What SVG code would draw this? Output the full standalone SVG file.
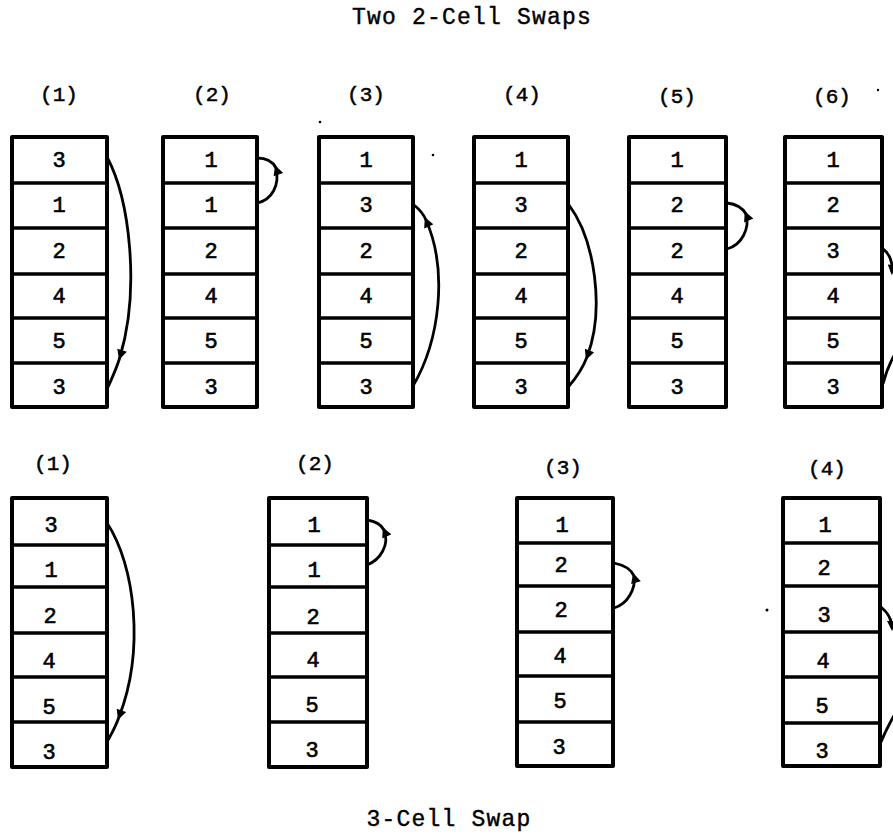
<svg xmlns="http://www.w3.org/2000/svg" width="893" height="835" viewBox="0 0 893 835">
<style>
.box{fill:#fff;stroke:#000;stroke-width:4;stroke-linejoin:round}
.div{stroke:#000;stroke-width:3.5}
.d{font-family:"Liberation Mono","DejaVu Sans Mono",monospace;font-size:22px;text-anchor:middle;fill:#000;stroke:#000;stroke-width:0.6}
.lbl{font-family:"Liberation Mono","DejaVu Sans Mono",monospace;font-size:21px;text-anchor:middle;fill:#000;stroke:#000;stroke-width:0.5}
.ttl{font-family:"Liberation Mono","DejaVu Sans Mono",monospace;font-size:23px;letter-spacing:1.2px;text-anchor:middle;fill:#000;stroke:#000;stroke-width:0.4}
.arc{fill:none;stroke:#000;stroke-width:2.8}
.am{marker-mid:url(#ah)}
.ae{marker-end:url(#ah)}
</style>
<defs>
<marker id="ah" viewBox="0 0 10 10" refX="7" refY="5" markerWidth="12" markerHeight="10" markerUnits="userSpaceOnUse" orient="auto">
<path d="M0,0 L10,5 L0,10 z" fill="#000"/>
</marker>
</defs>
<rect width="893" height="835" fill="#fff"/>
<text class="ttl" x="472" y="24">Two 2-Cell Swaps</text>
<text class="ttl" x="449" y="826">3-Cell Swap</text>

<g id="top1">
<text class="lbl" x="59" y="101">(1)</text>
<rect class="box" x="12" y="137" width="95" height="270"/>
<path class="div" d="M12,183H107M12,228H107M12,274H107M12,318H107M12,363H107"/>
<text class="d" x="59" y="167">3</text><text class="d" x="59" y="212">1</text><text class="d" x="59" y="258">2</text><text class="d" x="59" y="303">4</text><text class="d" x="59" y="348">5</text><text class="d" x="59" y="394">3</text>
</g>
<g id="top2">
<text class="lbl" x="212" y="101">(2)</text>
<rect class="box" x="163" y="137" width="94" height="270"/>
<path class="div" d="M163,183H257M163,228H257M163,274H257M163,318H257M163,363H257"/>
<text class="d" x="211" y="167">1</text><text class="d" x="211" y="212">1</text><text class="d" x="211" y="258">2</text><text class="d" x="211" y="303">4</text><text class="d" x="211" y="348">5</text><text class="d" x="211" y="394">3</text>
</g>
<g id="top3">
<text class="lbl" x="366" y="101">(3)</text>
<rect class="box" x="319" y="137" width="94" height="270"/>
<path class="div" d="M319,183H413M319,228H413M319,274H413M319,318H413M319,363H413"/>
<text class="d" x="366" y="167">1</text><text class="d" x="366" y="212">3</text><text class="d" x="366" y="258">2</text><text class="d" x="366" y="303">4</text><text class="d" x="366" y="348">5</text><text class="d" x="366" y="394">3</text>
</g>
<g id="top4">
<text class="lbl" x="522" y="101">(4)</text>
<rect class="box" x="474" y="137" width="94" height="270"/>
<path class="div" d="M474,183H568M474,228H568M474,274H568M474,318H568M474,363H568"/>
<text class="d" x="521" y="167">1</text><text class="d" x="521" y="212">3</text><text class="d" x="521" y="258">2</text><text class="d" x="521" y="303">4</text><text class="d" x="521" y="348">5</text><text class="d" x="521" y="394">3</text>
</g>
<g id="top5">
<text class="lbl" x="677" y="103">(5)</text>
<rect class="box" x="629" y="137" width="97" height="270"/>
<path class="div" d="M629,183H726M629,228H726M629,274H726M629,318H726M629,363H726"/>
<text class="d" x="677" y="167">1</text><text class="d" x="677" y="212">2</text><text class="d" x="677" y="258">2</text><text class="d" x="677" y="303">4</text><text class="d" x="677" y="348">5</text><text class="d" x="677" y="394">3</text>
</g>
<g id="top6">
<text class="lbl" x="832" y="103">(6)</text>
<rect class="box" x="785" y="137" width="97" height="270"/>
<path class="div" d="M785,183H882M785,228H882M785,274H882M785,318H882M785,363H882"/>
<text class="d" x="833" y="167">1</text><text class="d" x="833" y="212">2</text><text class="d" x="833" y="258">3</text><text class="d" x="833" y="303">4</text><text class="d" x="833" y="348">5</text><text class="d" x="833" y="394">3</text>
</g>

<g id="bot1">
<text class="lbl" x="53" y="470">(1)</text>
<rect class="box" x="12" y="498" width="95" height="269"/>
<path class="div" d="M12,545H107M12,587H107M12,633H107M12,677H107M12,722H107"/>
<text class="d" x="51" y="532">3</text><text class="d" x="51" y="577">1</text><text class="d" x="50" y="623">2</text><text class="d" x="49" y="668">4</text><text class="d" x="49" y="714">5</text><text class="d" x="49" y="759">3</text>
</g>
<g id="bot2">
<text class="lbl" x="315" y="470">(2)</text>
<rect class="box" x="269" y="498" width="98" height="269"/>
<path class="div" d="M269,545H367M269,587H367M269,633H367M269,677H367M269,722H367"/>
<text class="d" x="314" y="532">1</text><text class="d" x="314" y="577">1</text><text class="d" x="313" y="624">2</text><text class="d" x="313" y="667">4</text><text class="d" x="312" y="712">5</text><text class="d" x="312" y="757">3</text>
</g>
<g id="bot3">
<text class="lbl" x="563" y="474">(3)</text>
<rect class="box" x="517" y="498" width="96" height="268"/>
<path class="div" d="M517,543H613M517,586H613M517,632H613M517,676H613M517,722H613"/>
<text class="d" x="562" y="532">1</text><text class="d" x="561" y="572">2</text><text class="d" x="561" y="617">2</text><text class="d" x="560" y="663">4</text><text class="d" x="560" y="708">5</text><text class="d" x="559" y="754">3</text>
</g>
<g id="bot4">
<text class="lbl" x="827" y="475">(4)</text>
<rect class="box" x="783" y="498" width="97" height="268"/>
<path class="div" d="M783,543H880M783,586H880M783,632H880M783,677H880M783,723H880"/>
<text class="d" x="825" y="532">1</text><text class="d" x="824" y="575">2</text><text class="d" x="824" y="622">3</text><text class="d" x="823" y="668">4</text><text class="d" x="822" y="713">5</text><text class="d" x="822" y="758">3</text>
</g>

<g id="connectors">
<path class="arc am" d="M107,157 C130,200 140,290 120,357 C116,370 112,378 108,387"/>
<path class="arc am" d="M257,203 C272,200 280,185 276,168 C273,162 266,158 257,158"/>
<path class="arc am" d="M413,386 C440,340 448,270 426,220 C423,213 419,209 414,205"/>
<path class="arc am" d="M569,205 C595,240 605,310 587,357 C582,370 576,378 569,386"/>
<path class="arc am" d="M727,249 C742,245 750,228 746,214 C742,207 736,204 727,203"/>
<path class="arc ae" d="M883,249 C889,253 893,262 892,272"/>
<path class="arc" d="M883,384 C886,372 889,364 896,352"/>
<path class="arc am" d="M107,523 C135,565 145,650 119,717 C116,726 112,733 107,742"/>
<path class="arc am" d="M367,565 C380,560 390,545 384,530 C381,524 374,521 367,520"/>
<path class="arc am" d="M614,608 C628,604 636,588 634,576 C631,569 624,565 614,563"/>
<path class="arc ae" d="M881,607 C887,612 892,620 892,628"/>
<path class="arc" d="M881,742 C885,732 889,724 896,712"/>
</g>

<g id="specks" fill="#000">
<circle cx="320" cy="122" r="1.3"/>
<circle cx="433" cy="155" r="1.3"/>
<circle cx="878" cy="90" r="1.2"/>
<circle cx="767" cy="610" r="1.5"/>
</g>
</svg>
